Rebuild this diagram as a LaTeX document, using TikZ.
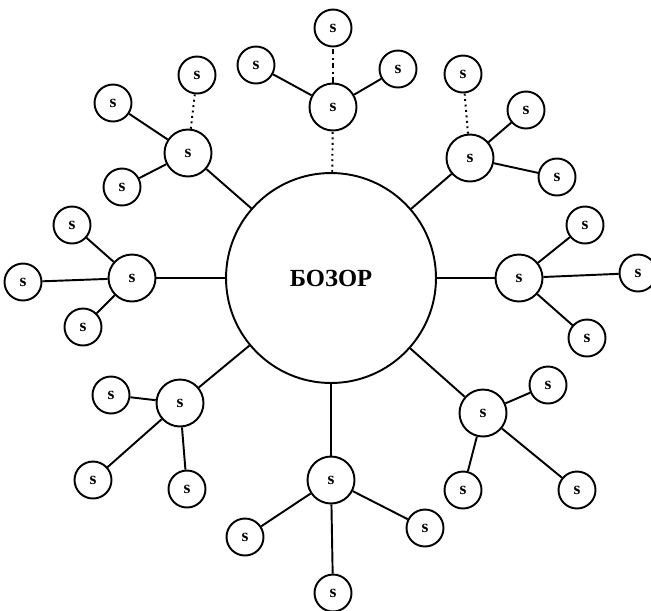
\documentclass[tikz,border=0pt]{standalone}
\usepackage{fontspec}
\setmainfont{Liberation Serif}
\begin{document}
\begin{tikzpicture}[x=0.02cm,y=-0.02cm,
  every node/.style={font=\bfseries\fontsize{10}{12}\selectfont},
  bignode/.style={circle,draw,line width=1.1pt,minimum size=4.2cm,inner sep=0pt,font=\bfseries\fontsize{14}{16}\selectfont},
  hubnode/.style={circle,draw,line width=1.1pt,minimum size=0.94cm,inner sep=0pt},
  leaf/.style={circle,draw,line width=1.1pt,minimum size=0.74cm,inner sep=0pt},
  link/.style={line width=1.1pt},
  dotlink/.style={line width=1.1pt,dotted}]
\useasboundingbox (0,0) rectangle (651,610);
\node[bignode] (c) at (331,278) {БОЗОР};
% top
\node[hubnode] (h1) at (333,107) {s};
\node[leaf] (h1a) at (333,28) {s};
\node[leaf] (h1b) at (398,69) {s};
\node[leaf] (h1c) at (256,65) {s};
\draw[dotlink] (c) -- (h1);
\draw[line width=1.1pt,dash dot] (h1) -- (h1a);
\draw[link] (h1) -- (h1b);
\draw[link] (h1) -- (h1c);
% upper left
\node[hubnode] (h2) at (188,153) {s};
\node[leaf] (h2a) at (113,103) {s};
\node[leaf] (h2b) at (197,75) {s};
\node[leaf] (h2c) at (122,187) {s};
\draw[link] (c) -- (h2);
\draw[link] (h2) -- (h2a);
\draw[dotlink] (h2) -- (h2b);
\draw[link] (h2) -- (h2c);
% left
\node[hubnode] (h3) at (132,278) {s};
\node[leaf] (h3a) at (72,225) {s};
\node[leaf] (h3b) at (23,282) {s};
\node[leaf] (h3c) at (83,327) {s};
\draw[link] (c) -- (h3);
\draw[link] (h3) -- (h3a);
\draw[link] (h3) -- (h3b);
\draw[link] (h3) -- (h3c);
% lower left
\node[hubnode] (h4) at (180,403) {s};
\node[leaf] (h4a) at (111,395) {s};
\node[leaf] (h4b) at (93,480) {s};
\node[leaf] (h4c) at (187,489) {s};
\draw[link] (c) -- (h4);
\draw[link] (h4) -- (h4a);
\draw[link] (h4) -- (h4b);
\draw[link] (h4) -- (h4c);
% bottom
\node[hubnode] (h5) at (331,480) {s};
\node[leaf] (h5a) at (425,528) {s};
\node[leaf] (h5b) at (333,593) {s};
\node[leaf] (h5c) at (245,537) {s};
\draw[link] (c) -- (h5);
\draw[link] (h5) -- (h5a);
\draw[link] (h5) -- (h5b);
\draw[link] (h5) -- (h5c);
% lower right
\node[hubnode] (h6) at (483,413) {s};
\node[leaf] (h6a) at (548,385) {s};
\node[leaf] (h6b) at (463,490) {s};
\node[leaf] (h6c) at (577,490) {s};
\draw[link] (c) -- (h6);
\draw[link] (h6) -- (h6a);
\draw[link] (h6) -- (h6b);
\draw[link] (h6) -- (h6c);
% right
\node[hubnode] (h7) at (519,278) {s};
\node[leaf] (h7a) at (585,225) {s};
\node[leaf] (h7b) at (638,273) {s};
\node[leaf] (h7c) at (587,338) {s};
\draw[link] (c) -- (h7);
\draw[link] (h7) -- (h7a);
\draw[link] (h7) -- (h7b);
\draw[link] (h7) -- (h7c);
% upper right
\node[hubnode] (h8) at (470,158) {s};
\node[leaf] (h8a) at (463,74) {s};
\node[leaf] (h8b) at (526,110) {s};
\node[leaf] (h8c) at (557,177) {s};
\draw[link] (c) -- (h8);
\draw[dotlink] (h8) -- (h8a);
\draw[link] (h8) -- (h8b);
\draw[link] (h8) -- (h8c);
\end{tikzpicture}
\end{document}
